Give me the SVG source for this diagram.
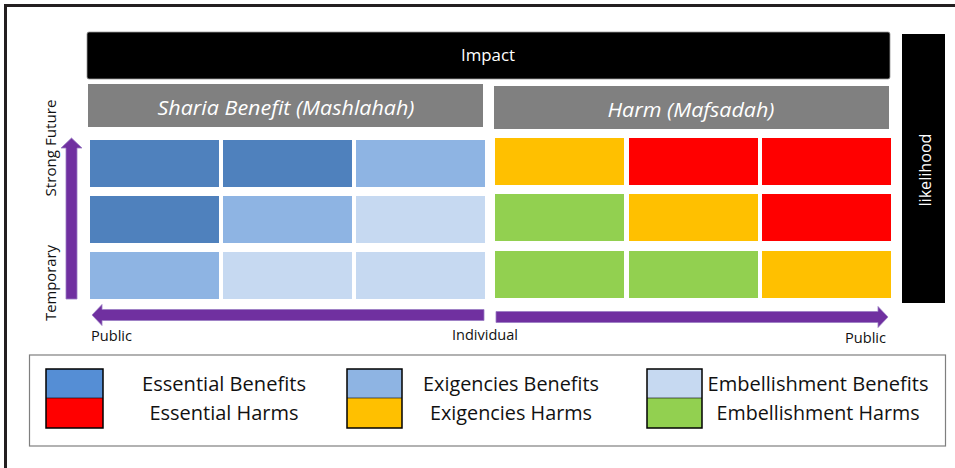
<svg xmlns="http://www.w3.org/2000/svg" width="955" height="468" viewBox="0 0 955 468">
<style>
text{font-family:"Open Sans","Liberation Sans",sans-serif;}
.w{fill:#fff;}
.k{fill:#111;}
.db{fill:#4F81BD;}.mb{fill:#8EB4E3;}.lb{fill:#C6D9F1;}
.or{fill:#FFC000;}.rd{fill:#FF0000;}.gr{fill:#92D050;}
.arr{fill:#7030A0;stroke:#9b7cc4;stroke-width:0.8;}
.hdr{fill:#808080;}
.sw{stroke:#000;stroke-width:1.5;}
</style>
<rect x="0" y="0" width="955" height="468" fill="#fff"/>
<path d="M5.5 468 V5.5 H955" fill="none" stroke="#231f20" stroke-width="3"/>
<g id="impact">
<rect x="87" y="32" width="803" height="47" rx="2" fill="#000" stroke="#999" stroke-width="0.8"/>
<text x="488" y="61" font-size="16" class="w" text-anchor="middle" textLength="54" lengthAdjust="spacingAndGlyphs">Impact</text>
</g>
<g id="sharia">
<rect x="88" y="84" width="395" height="43" class="hdr"/>
<text x="286" y="115" font-size="20.5" font-style="italic" class="w" text-anchor="middle" textLength="257" lengthAdjust="spacingAndGlyphs">Sharia Benefit (Mashlahah)</text>
</g>
<g id="harm">
<rect x="494" y="86" width="395" height="43" class="hdr"/>
<text x="691" y="117" font-size="20.5" font-style="italic" class="w" text-anchor="middle" textLength="167" lengthAdjust="spacingAndGlyphs">Harm (Mafsadah)</text>
</g>
<g id="likelihood">
<rect x="902" y="34" width="43" height="269" fill="#000"/>
<text transform="translate(931 170) rotate(-90)" font-size="16" class="w" text-anchor="middle" textLength="73" lengthAdjust="spacingAndGlyphs">likelihood</text>
</g>
<g id="benefit-grid">
<rect x="90" y="140" width="129" height="47" class="db"/>
<rect x="223" y="140" width="129" height="47" class="db"/>
<rect x="356" y="140" width="129" height="47" class="mb"/>
<rect x="90" y="196" width="129" height="47" class="db"/>
<rect x="223" y="196" width="129" height="47" class="mb"/>
<rect x="356" y="196" width="129" height="47" class="lb"/>
<rect x="90" y="252" width="129" height="47" class="mb"/>
<rect x="223" y="252" width="129" height="47" class="lb"/>
<rect x="356" y="252" width="129" height="47" class="lb"/>
</g>
<g id="harm-grid">
<rect x="495" y="138" width="129" height="47" class="or"/>
<rect x="629" y="138" width="129" height="47" class="rd"/>
<rect x="762" y="138" width="129" height="47" class="rd"/>
<rect x="495" y="194" width="129" height="47" class="gr"/>
<rect x="629" y="194" width="129" height="47" class="or"/>
<rect x="762" y="194" width="129" height="47" class="rd"/>
<rect x="495" y="251" width="129" height="47" class="gr"/>
<rect x="629" y="251" width="129" height="47" class="gr"/>
<rect x="762" y="251" width="129" height="47" class="or"/>
</g>
<g id="connectors">
<polygon class="arr" points="66,299 77,299 77,148 82,148 71.5,138 61,148 66,148"/>
<polygon class="arr" points="484,309.5 484,320.5 102,320.5 102,325.5 92,315 102,304.5 102,309.5"/>
<polygon class="arr" points="496,311.5 496,322.5 878,322.5 878,327.5 888,317 878,306.5 878,311.5"/>
</g>
<g id="axis-labels">
<text transform="translate(56 283) rotate(-90)" font-size="14" class="k" text-anchor="middle" textLength="76" lengthAdjust="spacingAndGlyphs">Temporary</text>
<text transform="translate(56 148) rotate(-90)" font-size="14" class="k" text-anchor="middle" textLength="97" lengthAdjust="spacingAndGlyphs">Strong Future</text>
<text x="91" y="341" font-size="14" class="k" textLength="41" lengthAdjust="spacingAndGlyphs">Public</text>
<text x="485" y="340" font-size="14" class="k" text-anchor="middle" textLength="66" lengthAdjust="spacingAndGlyphs">Individual</text>
<text x="845" y="343" font-size="14" class="k" textLength="41" lengthAdjust="spacingAndGlyphs">Public</text>
</g>
<g id="legend">
<rect x="29.5" y="355" width="916" height="91" fill="#fff" stroke="#7f7f7f" stroke-width="1.2"/>
<rect x="46" y="369" width="57" height="29" fill="#558ED5"/>
<rect x="46" y="398" width="57" height="30" class="rd"/>
<rect x="46" y="369" width="57" height="59" fill="none" class="sw"/>
<line x1="46" y1="398" x2="103" y2="398" stroke="#000" stroke-width="0.6"/>
<rect x="347" y="369" width="55" height="29" class="mb"/>
<rect x="347" y="398" width="55" height="30" class="or"/>
<rect x="347" y="369" width="55" height="59" fill="none" class="sw"/>
<line x1="347" y1="398" x2="402" y2="398" stroke="#000" stroke-width="0.6"/>
<rect x="647" y="369" width="55" height="29" class="lb"/>
<rect x="647" y="398" width="55" height="30" class="gr"/>
<rect x="647" y="369" width="55" height="59" fill="none" class="sw"/>
<line x1="647" y1="398" x2="702" y2="398" stroke="#000" stroke-width="0.6"/>
<text x="224" y="391" font-size="19.5" class="k" text-anchor="middle" textLength="164" lengthAdjust="spacingAndGlyphs">Essential Benefits</text>
<text x="224" y="420" font-size="19.5" class="k" text-anchor="middle" textLength="149" lengthAdjust="spacingAndGlyphs">Essential Harms</text>
<text x="511" y="391" font-size="19.5" class="k" text-anchor="middle" textLength="176" lengthAdjust="spacingAndGlyphs">Exigencies Benefits</text>
<text x="511" y="420" font-size="19.5" class="k" text-anchor="middle" textLength="162" lengthAdjust="spacingAndGlyphs">Exigencies Harms</text>
<text x="818" y="391" font-size="19.5" class="k" text-anchor="middle" textLength="221" lengthAdjust="spacingAndGlyphs">Embellishment Benefits</text>
<text x="818" y="420" font-size="19.5" class="k" text-anchor="middle" textLength="203" lengthAdjust="spacingAndGlyphs">Embellishment Harms</text>
</g>
</svg>
